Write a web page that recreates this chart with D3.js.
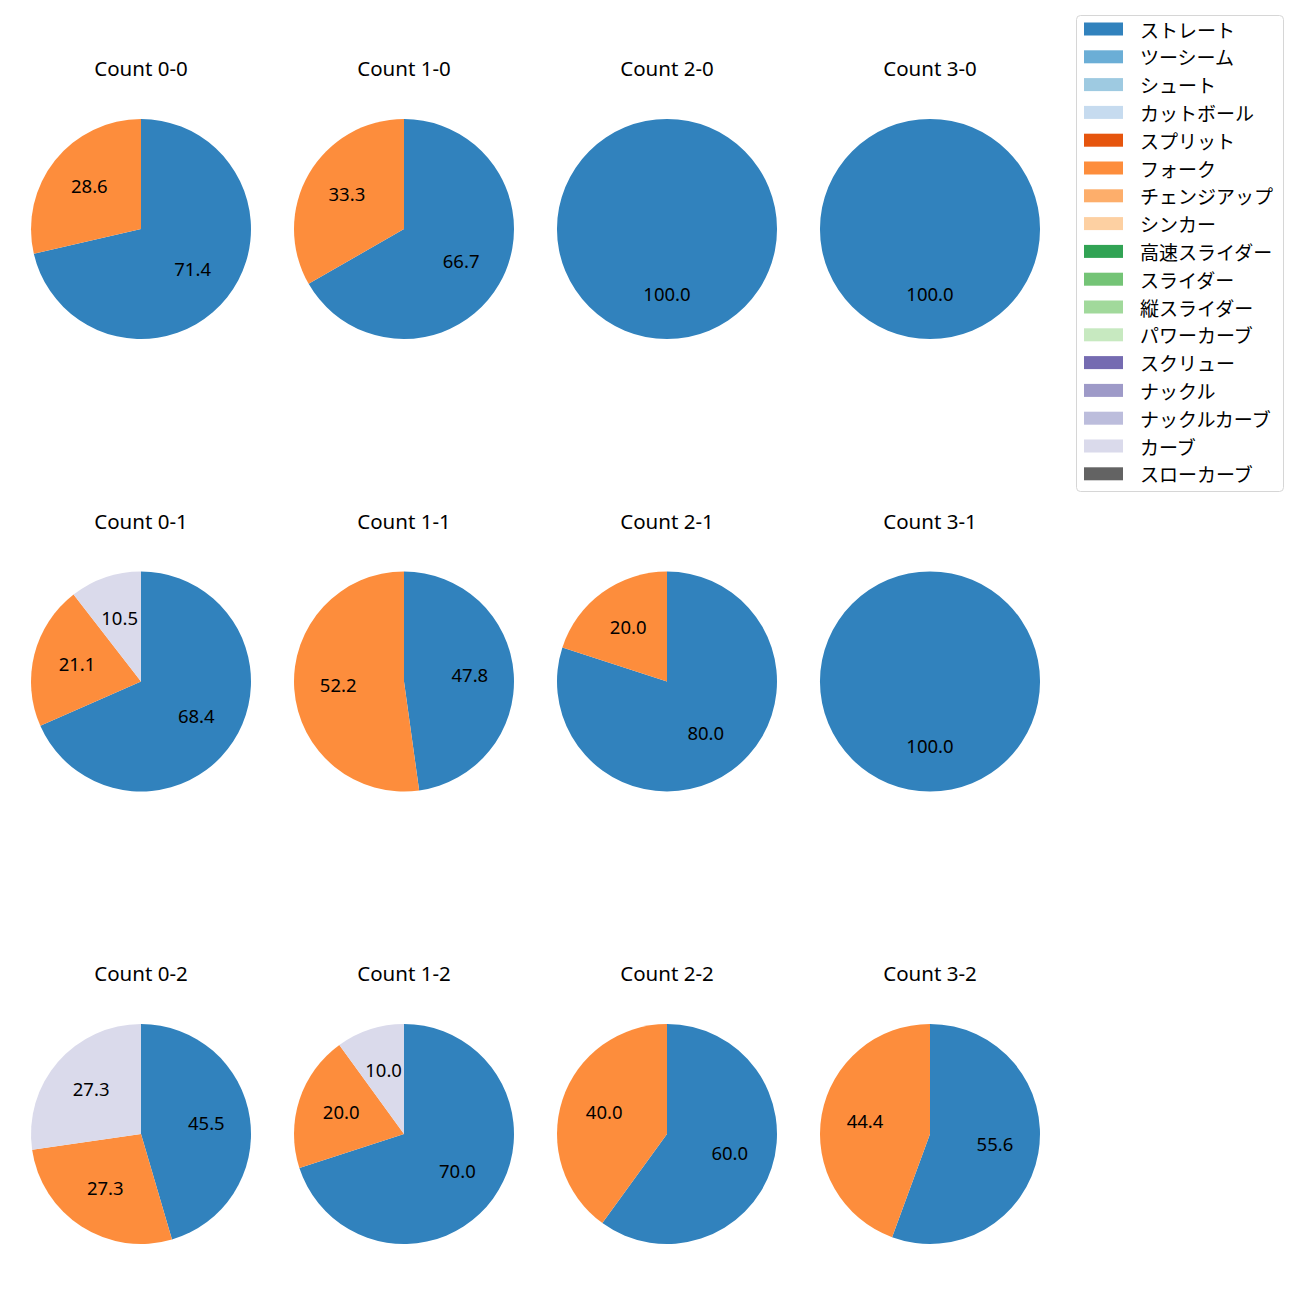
<!DOCTYPE html>
<html><head><meta charset="utf-8">
<script src="https://cdn.jsdelivr.net/npm/d3@7"></script>
<style>body{margin:0;background:#fff;} svg{display:block;}</style>
</head><body>
<svg id="c" width="1300" height="1300"></svg>
<script>
const pitchTypes = ["ストレート","ツーシーム","シュート","カットボール","スプリット","フォーク","チェンジアップ","シンカー","高速スライダー","スライダー","縦スライダー","パワーカーブ","スクリュー","ナックル","ナックルカーブ","カーブ","スローカーブ"];
const pitchColors = ["#3182bd","#6baed6","#9ecae1","#c6dbef","#e6550d","#fd8d3c","#fdae6b","#fdd0a2","#31a354","#74c476","#a1d99b","#c7e9c0","#756bb1","#9e9ac8","#bcbddc","#dadaeb","#636363"];
const counts = ["Count 0-0","Count 1-0","Count 2-0","Count 3-0","Count 0-1","Count 1-1","Count 2-1","Count 3-1","Count 0-2","Count 1-2","Count 2-2","Count 3-2"];
// values per count: [ストレート, フォーク, カーブ] (percent)
const straight = [71.4, 66.7, 100, 100, 68.4, 47.8, 80, 100, 45.5, 70, 60, 55.6];
const fork     = [28.6, 33.3, 0, 0, 21.1, 52.2, 20, 0, 27.3, 20, 40, 44.4];
const curve    = [0, 0, 0, 0, 10.5, 0, 0, 0, 27.3, 10, 0, 0];

const svg = d3.select("#c");
const latin = "'Noto Sans', 'DejaVu Sans', sans-serif";
const jp = "'Noto Sans CJK JP', 'Noto Sans', sans-serif";
const color = d3.scaleOrdinal().domain(pitchTypes).range(pitchColors);
const colX = d3.scalePoint().domain([0,1,2,3]).range([141, 930]);
const rowY = d3.scalePoint().domain([0,1,2]).range([229, 1134]);
const R = 110;
const pie = d3.pie().sort(null).value(d => d.v);
const arc = d3.arc().innerRadius(0).outerRadius(R);
const labelArc = d3.arc().innerRadius(R*0.6).outerRadius(R*0.6);

counts.forEach((name, i) => {
  const col = i % 4, row = Math.floor(i / 4);
  const g = svg.append("g").attr("transform", `translate(${colX(col)},${rowY(row)})`);
  const data = pitchTypes.map(t => ({t, v: 0}));
  data[pitchTypes.indexOf("ストレート")].v = straight[i];
  data[pitchTypes.indexOf("フォーク")].v = fork[i];
  data[pitchTypes.indexOf("カーブ")].v = curve[i];
  const arcs = pie(data).filter(d => d.data.v > 0);
  g.selectAll("path").data(arcs).join("path")
    .attr("d", arc).attr("fill", d => color(d.data.t));
  g.selectAll("text.lbl").data(arcs).join("text").attr("class","lbl")
    .attr("transform", d => { const c = labelArc.centroid(d); return `translate(${c[0]},${c[1]-2})`; })
    .attr("text-anchor","middle").attr("dominant-baseline","central")
    .attr("font-family", latin).attr("font-size", 18.5).attr("fill","#000")
    .text(d => d.data.v.toFixed(1));
  g.append("text").attr("x",0).attr("y",-R-51)
    .attr("text-anchor","middle").attr("dominant-baseline","central")
    .attr("font-family", latin).attr("font-size", 20.5).attr("fill","#000")
    .text(name);
});

// legend
const lg = svg.append("g").attr("transform","translate(1076,15)");
lg.append("rect").attr("x",0.5).attr("y",0.5).attr("width",207).attr("height",476)
  .attr("rx",4).attr("fill","#fff").attr("stroke","#d6d6d6");
const ly = d3.scalePoint().domain(pitchTypes).range([14, 14 + 27.8*16]);
pitchTypes.forEach(t => {
  lg.append("rect").attr("x",8).attr("y",ly(t)-6.5).attr("width",39).attr("height",13).attr("fill",color(t));
  lg.append("text").attr("x",64).attr("y",ly(t)).attr("dominant-baseline","central")
    .attr("font-family", jp).attr("font-size",19).attr("fill","#000").text(t);
});
</script>
</body></html>
